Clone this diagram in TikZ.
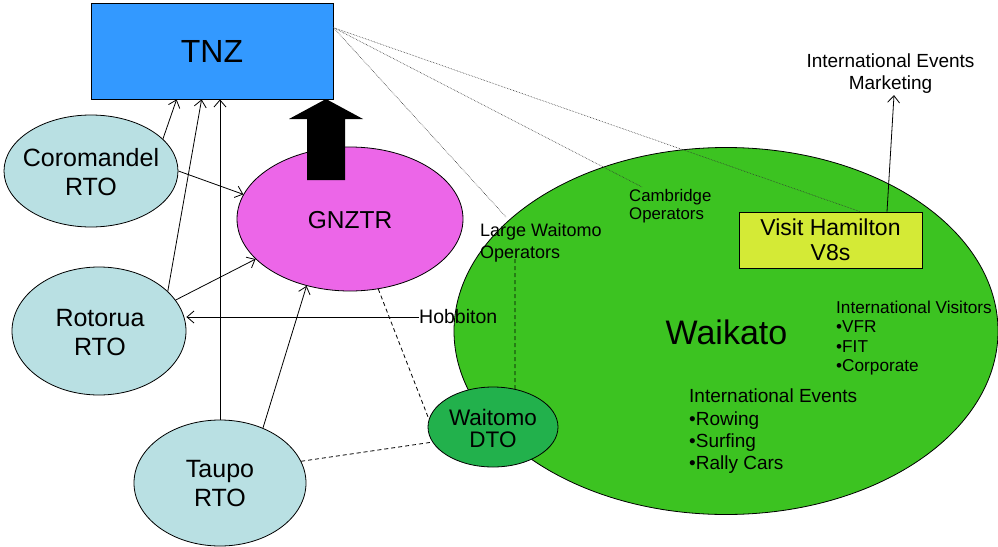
\documentclass[tikz,border=0pt]{standalone}
\usepackage{fontspec}
\setmainfont{Liberation Sans}
\usepackage{xcolor}
\usepackage{tikz}
\usetikzlibrary{arrows.meta, positioning, shapes.geometric}

\definecolor{tnzblue}{HTML}{3399FF}
\definecolor{rtocyan}{HTML}{B9E0E3}
\definecolor{gnzpink}{HTML}{EC66E8}
\definecolor{waikgreen}{HTML}{3CC321}
\definecolor{waitgreen}{HTML}{22B14C}
\definecolor{vhyellow}{HTML}{D4EA36}

\begin{document}
\begin{tikzpicture}[
			x=1pt, y=-1pt,
			box/.style={draw, line width=0.8pt, align=center, inner sep=0pt},
			region/.style={draw, ellipse, line width=0.8pt, inner sep=0pt},
			rto/.style={region, fill=rtocyan},
			rtotxt/.style={align=center, inner sep=0pt, font=\fontsize{25}{29}\selectfont},
			note/.style={align=left, inner sep=0pt},
			arrow/.style={-{Straight Barb[length=7pt,width=12pt]}, line width=0.8pt},
			dotline/.style={densely dotted, line width=0.6pt, black!80},
			dashline/.style={dash pattern=on 4pt off 3pt, line width=0.8pt}
			]
			\useasboundingbox (0,0) rectangle (998,546);
			
			% Waikato
			\node[region, fill=waikgreen, minimum width=544pt, minimum height=367pt] (waikato) at (726,331) {};
			\node[font=\fontsize{34}{38}\selectfont, inner sep=0pt] (waikatotxt) at (726.5,332) {Waikato};
			
			% TNZ
			\node[box, fill=tnzblue, minimum width=242pt, minimum height=96pt, font=\fontsize{32}{36}\selectfont] (tnz) at (212,51) {TNZ};
			
			% RTOs
			\node[rto, minimum width=174pt, minimum height=112pt] (coro) at (91,171) {};
			\node[rtotxt] (corotxt) at (91,172.5) {Coromandel\\RTO};
			\node[rto, minimum width=174pt, minimum height=128pt] (roto) at (99,331) {};
			\node[rtotxt] (rototxt) at (100,332.5) {Rotorua\\RTO};
			\node[rto, minimum width=172pt, minimum height=126pt] (taupo) at (220,483) {};
			\node[rtotxt] (taupotxt) at (220,484) {Taupo\\RTO};
			
			% GNZTR
			\node[region, fill=gnzpink, minimum width=226pt, minimum height=144pt] (gnztr) at (350,219) {};
			\node[font=\fontsize{24.5}{28}\selectfont, inner sep=0pt] (gnztrtxt) at (350,220) {GNZTR};
			\fill (307,180) -- (307,119) -- (289,119) -- (326,99) -- (363,119) -- (345,119) -- (345,180) -- cycle;
			
			% Waitomo
			\node[region, fill=waitgreen, minimum width=130pt, minimum height=80pt] (waitomo) at (493,427) {};
			\node[rtotxt, font=\fontsize{22.5}{22}\selectfont] (waitomotxt) at (493,428) {Waitomo\\DTO};
			
			% Visit Hamilton
			\node[box, fill=vhyellow, minimum width=183pt, minimum height=56pt, font=\fontsize{23}{25}\selectfont] (vh) at (830.5,240) {Visit Hamilton\\V8s};
			\node[align=center, inner sep=0pt, font=\fontsize{19}{22}\selectfont] (iem) at (890.5,74) {International Events\\Marketing};
			
			% Labels
			\node[note, anchor=north west, font=\fontsize{16.8}{18}\selectfont] (cam) at (629,189) {Cambridge\\Operators};
			\node[note, anchor=north west, font=\fontsize{18}{22}\selectfont] (lwo) at (480,223) {Large Waitomo\\Operators};
			\node[note, anchor=west, font=\fontsize{19.5}{22}\selectfont] (hobbiton) at (419,317) {Hobbiton};
			\node[note, anchor=north west, font=\fontsize{17.2}{19.3}\selectfont] (visitors) at (836,301) {International Visitors\\•VFR\\•FIT\\•Corporate};
			\node[note, anchor=north west, font=\fontsize{19}{22.3}\selectfont] (events) at (689,389) {International Events\\•Rowing\\•Surfing\\•Rally Cars};
			
			% Dotted links from TNZ
			\coordinate (tnzport) at ([yshift=-25pt]tnz.north east);
			\draw[dotline] (tnzport) -- ([xshift=26pt,yshift=6pt]lwo.north west);
			\draw[dotline] (tnzport) -- ([xshift=13pt,yshift=2pt]cam.north west);
			\draw[dotline] (tnzport) -- ([xshift=29.5pt]vh.north);
			
			% Arrows
			\draw[arrow] (coro.24) -- ([xshift=86pt]tnz.south west);
			\draw[arrow] (roto.30) -- ([xshift=111pt]tnz.south west);
			\draw[arrow] (taupo.north) -- (taupo.north |- tnz.south);
			\draw[arrow] (coro.east) -- (gnztr.167.6);
			\draw[arrow] (roto.22) -- (gnztr.203.4);
			\draw[arrow] (taupo.52) -- (gnztr.237.3);
			\draw[arrow] (hobbiton.west) -- (hobbiton.west -| roto.east);
			\draw[arrow] ([xshift=56.5pt]vh.north) -- ([xshift=3.5pt,yshift=-1pt]iem.south);
			
			% Dashed links to Waitomo
			\draw[dashline] (gnztr.-68.9) -- (waitomo.173.9);
			\draw[dashline] (taupo.15) -- (waitomo.194.3);
			\draw[dashline] ([xshift=35pt,yshift=3pt]lwo.south west) -- (waitomo.60);
			
		\end{tikzpicture}
\end{document}
